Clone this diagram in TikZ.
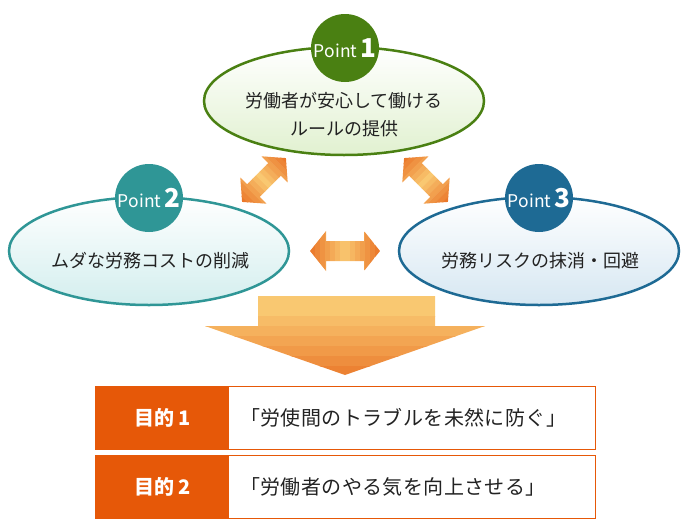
\documentclass[tikz,border=0pt]{standalone}
\usepackage{fontspec}
\setmainfont{Noto Sans CJK JP}
\usetikzlibrary{shapes.geometric}
\definecolor{gP1}{HTML}{4A8012}
\definecolor{gP1l}{HTML}{E1F1D0}
\definecolor{tP2}{HTML}{2F9696}
\definecolor{tP2l}{HTML}{D3EEEE}
\definecolor{bP3}{HTML}{1E6A94}
\definecolor{bP3l}{HTML}{D6E7F2}
\definecolor{arD}{HTML}{EA7528}
\definecolor{arL}{HTML}{F9C871}
\definecolor{boxO}{HTML}{E65808}
\definecolor{txt}{HTML}{222222}
\def\dblarrowpath#1#2#3#4{(-#1,0) -- (-#1+#2,#3) -- (-#1+#2,#4) -- (#1-#2,#4) -- (#1-#2,#3) -- (#1,0) -- (#1-#2,-#3) -- (#1-#2,-#4) -- (-#1+#2,-#4) -- (-#1+#2,-#3) -- cycle}
\begin{document}
\begin{tikzpicture}[x=1pt,y=-1pt,
  oval/.style={ellipse, draw=#1, line width=2.5pt, top color=white, bottom color=#1l, minimum width=280pt, minimum height=108pt, inner sep=0pt},
  pointc/.style={circle, fill=#1, minimum size=68pt, inner sep=0pt, text=white, font=\fontsize{17.5}{17.5}\selectfont},
  ovaltext/.style={align=center, text=txt, font=\fontsize{18}{28}\selectfont, inner sep=0pt},
  boxframe/.style={draw=boxO, line width=1pt, minimum width=500pt, minimum height=63pt, inner sep=0pt},
  boxlabel/.style={fill=boxO, minimum width=134pt, minimum height=63pt, inner sep=0pt, text=white, font=\fontsize{20}{20}\selectfont\bfseries},
  boxtext/.style={text=txt, font=\fontsize{20}{20}\selectfont\addfontfeatures{LetterSpace=2}, inner sep=0pt}]
\useasboundingbox (0,0) rectangle (690,530);
% ellipses
\node[oval=gP1] (e1) at (344,101) {};
\node[oval=tP2] (e2) at (149,251) {};
\node[oval=bP3] (e3) at (539,251) {};
\node[ovaltext] (t1) at (344,115) {労働者が安心して働ける\\ルールの提供};
\node[ovaltext] (t2) at (150,261) {ムダな労務コストの削減};
\node[ovaltext] (t3) at (540,261) {労務リスクの抹消・回避};
% point circles
\node[pointc=gP1] (c1) at (345,48) {Point\,{\fontsize{26}{26}\selectfont\bfseries 1}};
\node[pointc=tP2] (c2) at (149,198) {Point\,{\fontsize{26}{26}\selectfont\bfseries 2}};
\node[pointc=bP3] (c3) at (539,198) {Point\,{\fontsize{26}{26}\selectfont\bfseries 3}};
% diagonal double arrows
\begin{scope}[shift={(264,180)}, rotate=45]
  \clip \dblarrowpath{31}{16}{18.5}{9};
  \foreach \i in {0,...,12} {
    \pgfmathsetmacro\xa{-32.5+5*\i}
    \pgfmathsetmacro\pct{100*abs(\xa+2.5)/31}
    \fill[arD!\pct!arL] (\xa,-20) rectangle (\xa+5.3,20);
  }
\end{scope}
\begin{scope}[shift={(426,180)}, rotate=-45]
  \clip \dblarrowpath{31}{16}{18.5}{9};
  \foreach \i in {0,...,12} {
    \pgfmathsetmacro\xa{-32.5+5*\i}
    \pgfmathsetmacro\pct{100*abs(\xa+2.5)/31}
    \fill[arD!\pct!arL] (\xa,-20) rectangle (\xa+5.3,20);
  }
\end{scope}
% horizontal double arrow
\begin{scope}[shift={(345,251)}]
  \clip \dblarrowpath{35}{16}{20}{10};
  \foreach \i in {0,...,13} {
    \pgfmathsetmacro\xa{-35+5*\i}
    \pgfmathsetmacro\pct{100*abs(\xa+2.5)/35}
    \fill[arD!\pct!arL] (\xa,-22) rectangle (\xa+5.3,22);
  }
\end{scope}
% big down arrow
\begin{scope}
  \clip (258,296) -- (435,296) -- (435,326) -- (485,326) -- (345,375) -- (205,326) -- (258,326) -- cycle;
  \foreach \ya/\yb/\p in {296/316.5/0, 316/326.5/14, 326/336.5/28, 336/346.5/42, 346/356.5/56, 356/366.5/70, 366/376.5/85} {
    \fill[arD!\p!arL] (200,\ya) rectangle (490,\yb);
  }
\end{scope}
% bottom boxes
\node[boxframe, anchor=north west] (box1) at (95,386) {};
\node[boxlabel, anchor=north west] (lab1) at (box1.north west) {目的\hspace{4pt}1};
\node[boxtext, anchor=west] (txt1) at (240,418) {「労使間のトラブルを未然に防ぐ」};
\node[boxframe, anchor=north west] (box2) at (95,455) {};
\node[boxlabel, anchor=north west] (lab2) at (box2.north west) {目的\hspace{4pt}2};
\node[boxtext, anchor=west] (txt2) at (240,487) {「労働者のやる気を向上させる」};
\end{tikzpicture}
\end{document}
